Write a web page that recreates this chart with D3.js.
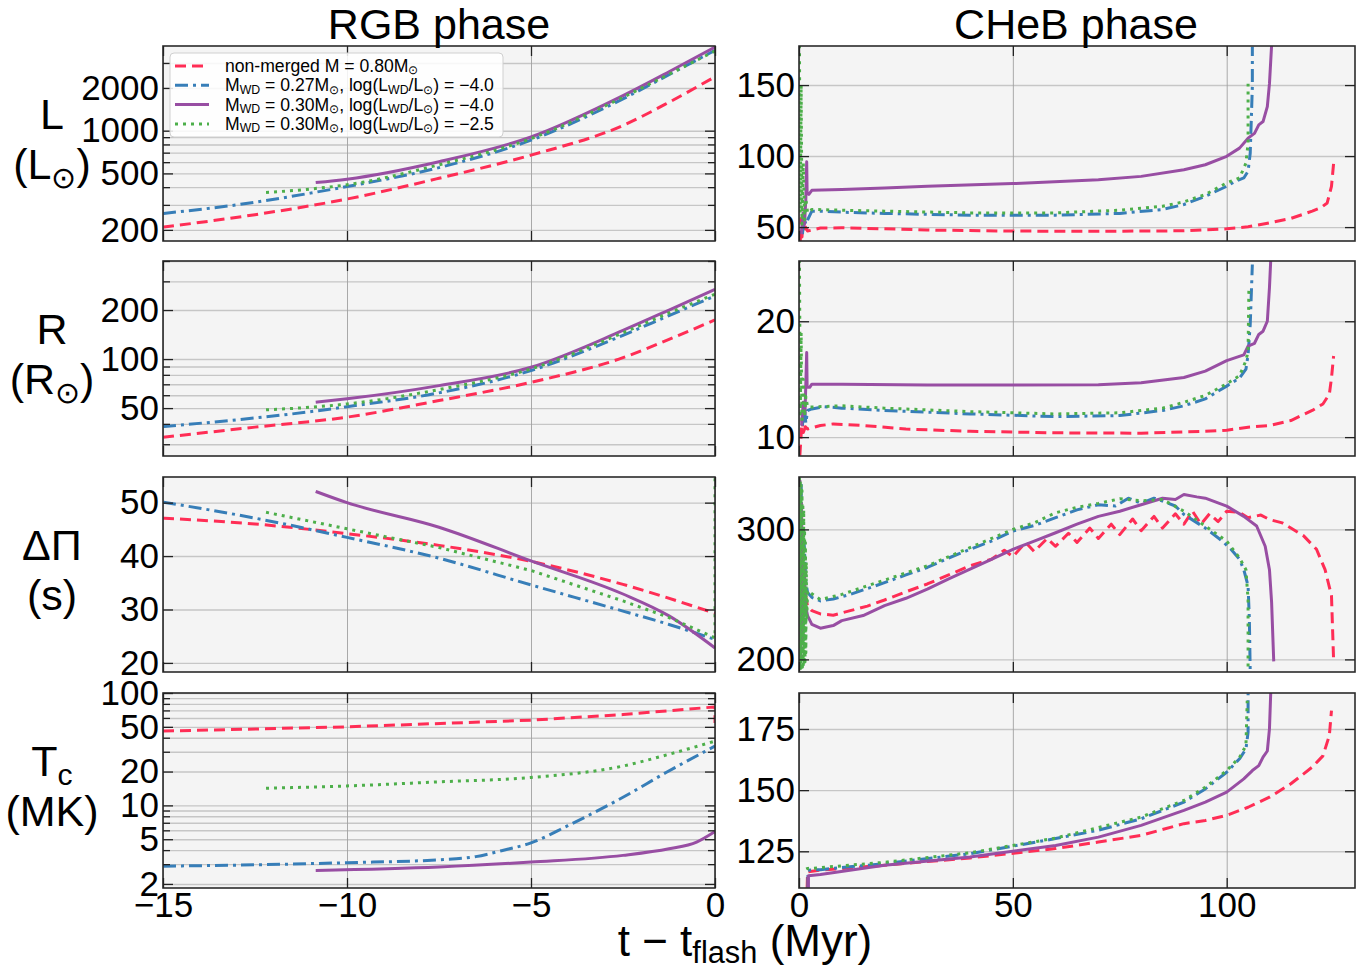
<!DOCTYPE html>
<html>
<head>
<meta charset="utf-8">
<script src="https://cdn.jsdelivr.net/npm/d3@7"></script>
<style>
  body { margin: 0; background: #fff; }
  text { font-family: "Liberation Sans", Arial, Helvetica, sans-serif; fill: #000; }
</style>
</head>
<body>
<svg id="chart" width="1367" height="971"></svg>
<script>
// ---- legend / series names ----
const seriesKeys = ["red", "blue", "purple", "green"];
const seriesLabels = [
  "non-merged M = 0.80M_{⊙}",
  "M_{WD} = 0.27M_{⊙}, log(L_{WD}/L_{⊙}) = −4.0",
  "M_{WD} = 0.30M_{⊙}, log(L_{WD}/L_{⊙}) = −4.0",
  "M_{WD} = 0.30M_{⊙}, log(L_{WD}/L_{⊙}) = −2.5"
];

// ---- RGB phase (t - t_flash in Myr, value) ----
const rgbL_red = [[-15,209],[-12.5,256],[-10,330],[-7.5,462],[-5,673],[-2.5,1088],[-1.25,1585],[0,2400]];
const rgbL_blue = [[-15,261],[-12.5,313],[-11,363],[-10,404],[-7.5,549],[-5,857],[-2.5,1675],[-1.25,2480],[0,3680]];
const rgbL_purple = [[-10.85,431],[-10,455],[-7.5,604],[-5,903],[-2.5,1766],[-1.25,2600],[0,3880]];
const rgbL_green = [[-12.2,367],[-11,388],[-10,416],[-7.5,575],[-5,880],[-2.5,1720],[-1.25,2500],[0,3640]];

const rgbR_red = [[-15,33.1],[-12.5,38.2],[-10,44],[-7.5,55.6],[-5,72],[-2.5,102],[-1.25,132],[0,174]];
const rgbR_blue = [[-15,38.5],[-12.5,43.5],[-11,47.5],[-10,51],[-7.5,62],[-5,85],[-2.5,140],[-1.25,185],[0,244]];
const rgbR_purple = [[-10.85,54.3],[-10,57],[-7.5,68.7],[-5,89],[-2.5,150],[-1.25,200],[0,268]];
const rgbR_green = [[-12.2,48.8],[-11,50.6],[-10,53],[-7.5,65],[-5,87],[-2.5,145],[-1.25,192],[0,250]];

const rgbP_red = [[-15,47.1],[-12.5,46.0],[-10,44.2],[-7.5,42.0],[-5,39.0],[-2.5,34.7],[0,29.3]];
const rgbP_blue = [[-15,50.1],[-12.5,47.1],[-10,43.5],[-7.5,39.6],[-5,34.6],[-2.5,29.7],[-1.25,27.2],[0,24.4]];
const rgbP_purple = [[-10.85,52.1],[-10,50],[-7.5,45.4],[-5,39.1],[-2.5,32.9],[-1.25,28.8],[0,22.8]];
const rgbP_green = [[-12.2,48.2],[-10,45.1],[-7.5,41.6],[-5,37.3],[-2.5,31.6],[-1.25,28.5],[0,24.7],[0,56]];

const rgbT_red = [[-15,45.8],[-10,50],[-5,57.3],[-2.5,64.3],[0,75.2],[0,54]];
const rgbT_blue = [[-15,2.88],[-12.5,2.96],[-10,3.09],[-7.5,3.28],[-6.5,3.5],[-5.8,3.95],[-5,4.64],[-4,6.6],[-2.5,11.8],[-1.33,19.6],[0,33.7]];
const rgbT_purple = [[-10.85,2.64],[-7.5,2.83],[-5,3.13],[-2.5,3.59],[-1.25,4.11],[-0.5,4.71],[0,5.85]];
const rgbT_green = [[-12.2,14.2],[-10,14.9],[-7.5,16.2],[-5,17.7],[-2.5,22.4],[-1.25,28.5],[0,37.3]];

// ---- CHeB phase (t - t_flash in Myr, value) ----
const chebL_red = [[0.3,40],[0.5,56],[0.7,43],[0.9,53],[1.2,46],[1.5,50],[2,47.2],[5,49.3],[10,49.5],[20,48.8],[30,47.9],[50,47.2],[70,47],[90,47.4],[100,48.8],[105,50.2],[110,53],[115,56.1],[120,61.2],[122,63.6],[123.5,67],[124.5,78.7],[125,95]];
const chebL_blue = [[0.8,45],[1.2,56],[1.6,52],[2,55],[3,61.2],[5,61.2],[10,60.5],[20,59.6],[40,58.4],[60,58.4],[75,59.6],[85,62.4],[90,65.9],[95,71.7],[100,78.7],[102,82.2],[104,84.6],[105,89.3],[105.5,102],[106,149],[106,177]];
const chebL_purple = [[0.5,45],[1.0,60],[1.3,52],[1.6,70],[1.8,96],[1.9,74],[2.3,73],[3,75.9],[10,76.4],[20,77.6],[30,78.7],[50,80.6],[70,83.4],[80,85.7],[90,90.4],[95,93.9],[100,99.8],[103,105.6],[105,112.6],[106.5,116],[107.5,122],[108.5,124.3],[109.5,134.8],[110,151],[110.5,178]];
const chebL_green = [[0.1,178],[0.3,60],[0.5,150],[0.7,52],[1.0,95],[1.3,55],[1.6,70],[2,60],[3,62.4],[10,61.9],[20,61.2],[40,60],[60,60],[75,61.9],[85,64.7],[90,67.8],[95,72.9],[100,81.1],[103,84.6],[104.5,95],[105,109],[105,151]];

const chebR_red = [[0.2,8.4],[0.5,10.2],[0.7,11.6],[1,10.4],[1.5,10.9],[2,10.7],[5,11],[8,11.14],[15,11],[25,10.7],[40,10.5],[60,10.37],[80,10.34],[95,10.5],[100,10.6],[105,10.86],[110,11],[115,11.43],[120,12.3],[122.5,12.86],[124,13.7],[124.5,15.1],[125,17]];
const chebR_blue = [[0.8,11],[1.2,12.8],[1.6,11.2],[2,12.3],[3,12.43],[6,12.63],[10,12.5],[20,12.3],[40,12],[60,11.77],[75,11.86],[85,12.3],[90,12.7],[95,13.3],[100,14.4],[103,15.1],[104.5,15.86],[105,17.1],[105.5,19.7],[106,24.9]];
const chebR_purple = [[0.6,11],[1.0,13],[1.4,12],[1.7,16],[1.8,17.3],[1.9,14.3],[2.5,14.3],[3,14.57],[10,14.57],[30,14.49],[50,14.49],[70,14.52],[80,14.7],[90,15.14],[95,15.7],[100,16.6],[104,17.1],[105,17.86],[106.5,18.1],[107.5,18.86],[108.5,19.14],[109.5,20],[110,22.9],[110.3,25.3]];
const chebR_green = [[0.1,25.3],[0.3,12],[0.5,19],[0.7,11.2],[1.0,15],[1.3,11.8],[1.6,13.5],[2,12.6],[3,12.6],[10,12.7],[20,12.5],[40,12.2],[60,12],[75,12.1],[85,12.5],[90,13],[95,13.6],[100,14.6],[103,15.3],[104.5,16.6],[105,17.4],[105.2,23]];

const chebP_red = [[1.5,250],[2,241],[3,237.5],[5,235],[8,234],[12,237.5],[16,241],[20,245.7],[25,252],[30,258],[35,265],[40,272],[45,277],[48,284],[50,279],[53,290],[55,283],[58,293],[60,287],[63,297],[65,290],[68,301],[70,293],[73,304],[75,296],[78,308],[80,299],[83,310],[85,301],[88,312],[90,304],[92,314],[94,304],[96,312],[98,306],[100,314],[103,313],[105,309],[108,311],[110,307.6],[113,305],[115,301],[118,295],[121,284.7],[123,269],[124.5,249],[125,199]];
const chebP_blue = [[0.5,335],[0.8,230],[1.2,290],[1.6,260],[2,251.5],[3,247.7],[5,245],[8,246.4],[12,250],[20,259],[25,265],[30,270.7],[35,278],[40,284.7],[45,291],[50,298.7],[55,303],[60,309],[65,315],[70,319],[74,318],[77,324],[80,320],[83,324],[85,321.7],[88,318],[90,311.5],[95,301],[99,291],[101,284.7],[103,277],[104,269],[105,256.6],[105.3,231],[105.5,191]];
const chebP_purple = [[0.2,338],[0.4,200],[0.6,320],[0.9,215],[1.2,270],[1.6,240],[2,233.7],[3,227],[5,224],[8,226],[10,229.8],[15,233.7],[20,241.3],[25,247],[30,254],[35,262],[40,269.4],[45,277],[50,284.7],[55,291],[60,297.4],[65,304],[70,310],[75,314],[80,319],[85,324],[88,323],[90,326.8],[93,325],[95,324],[100,317.9],[104,310],[107,302.6],[109,287],[110,269],[110.5,244],[111,198.5]];
const chebP_green = [[0.1,340],[0.2,195],[0.3,338],[0.4,193],[0.5,335],[0.6,192],[0.7,330],[0.8,194],[0.9,320],[1.0,195],[1.1,315],[1.2,196],[1.3,300],[1.4,198],[1.5,290],[1.6,205],[1.7,275],[1.8,230],[2,252.8],[5,246],[10,250],[20,261],[30,272],[40,286],[50,300],[55,305],[60,312.8],[65,317],[70,320],[75,323.5],[80,322],[85,323],[90,314],[95,302.6],[100,291],[103,278],[104.5,269],[105,246],[105,192]];

const chebT_red = [[1.9,110],[2,116.6],[5,117.3],[20,119.3],[40,122.3],[60,126.1],[70,128.8],[80,131.5],[90,136.3],[95,137.6],[100,139.7],[105,143],[110,147.1],[115,152.6],[120,159.4],[122.5,164],[124,172.3],[124.5,182.5]];
const chebT_blue = [[2.1,110],[2.1,117.3],[5,117.5],[20,120],[40,124],[60,130.2],[70,133.6],[80,138.3],[90,145.1],[95,150.5],[100,157.3],[103,162.8],[104.5,166.8],[105,173.6],[105,189.5]];
const chebT_purple = [[2.2,110],[2.2,115],[5,115.5],[20,119.3],[40,122.7],[60,127.4],[70,130.8],[80,135.6],[90,141.7],[95,145.1],[100,149.2],[104,154.6],[106,158],[107.5,160],[108.5,163.5],[109.5,166],[110,175],[110.3,190]];
const chebT_green = [[1.9,118.5],[2,117.9],[20,120.5],[40,124.4],[60,130.4],[80,139],[90,145.8],[95,151.2],[100,158],[103,163.4],[104.5,168.2],[104.8,186.5]];

// ---- tick values ----
const rgbXTicks = [-15, -10, -5, 0];
const chebXTicks = [0, 50, 100];
const lTicksLog = [200, 500, 1000, 2000];
const lMinorLog = [300, 400, 600, 700, 800, 900, 3000];
const rTicksLog = [50, 100, 200];
const rMinorLog = [30, 40, 60, 70, 80, 90, 300, 400];
const pTicksRgb = [20, 30, 40, 50];
const tTicksLog = [2, 5, 10, 20, 50, 100];
const tMinorLog = [3, 4, 6, 7, 8, 9, 30, 40, 60, 70, 80, 90];
const lTicksCheb = [50, 100, 150];
const rTicksCheb = [10, 20];
const pTicksCheb = [200, 300];
const tTicksCheb = [125, 150, 175];

const yLabels = [["L", "(L_{⊙})"], ["R", "(R_{⊙})"], ["ΔΠ", "(s)"], ["T_{c}", "(MK)"]];

// ---- styling ----
const colors = { red: "#ff2d55", blue: "#377eb8", purple: "#984ea3", green: "#4daf4a" };
const dashes = { red: "11,6", blue: "13,5,3,5", purple: null, green: "3,5" };

const svg = d3.select("#chart");
const W = 1367, H = 971;
svg.append("rect").attr("width", W).attr("height", H).attr("fill", "#fff");

const colX = [{ x0: 163, x1: 715 }, { x0: 799, x1: 1355 }];
const rowTop = [46, 261, 477, 693];
const panelH = 195;
const tickFont = 35;

function rich(t, s, fs, shift) {
  const sh = shift === undefined ? 0.22 : shift;
  const parts = s.split(/(_\{[^}]*\})/);
  let sub = false;
  parts.forEach(p => {
    if (!p) return;
    if (p.startsWith("_{")) {
      t.append("tspan").attr("dy", fs * sh).attr("font-size", fs * 0.7).text(p.slice(2, -1));
      sub = true;
    } else {
      t.append("tspan").attr("dy", sub ? -fs * sh : 0).text(p);
      sub = false;
    }
  });
}

const rows = [
  { left: { log: true, dom: [167, 3950], major: lTicksLog, minor: lMinorLog, data: [rgbL_red, rgbL_blue, rgbL_purple, rgbL_green] },
    right: { dom: [40.2, 177.5], major: lTicksCheb, minor: [], data: [chebL_red, chebL_blue, chebL_purple, chebL_green] } },
  { left: { log: true, dom: [25.4, 400], major: rTicksLog, minor: rMinorLog, data: [rgbR_red, rgbR_blue, rgbR_purple, rgbR_green] },
    right: { dom: [8.37, 25.2], major: rTicksCheb, minor: [], data: [chebR_red, chebR_blue, chebR_purple, chebR_green] } },
  { left: { dom: [18.3, 54.8], major: pTicksRgb, minor: [], data: [rgbP_red, rgbP_blue, rgbP_purple, rgbP_green] },
    right: { dom: [190.3, 340.3], major: pTicksCheb, minor: [], data: [chebP_red, chebP_blue, chebP_purple, chebP_green] } },
  { left: { log: true, dom: [1.84, 100], major: tTicksLog, minor: tMinorLog, data: [rgbT_red, rgbT_blue, rgbT_purple, rgbT_green] },
    right: { dom: [110, 189.7], major: tTicksCheb, minor: [], data: [chebT_red, chebT_blue, chebT_purple, chebT_green] } }
];

let clipId = 0;
function drawPanel(cfg, col, row) {
  const { x0, x1 } = colX[col];
  const w = x1 - x0, h = panelH;
  const g = svg.append("g").attr("transform", `translate(${x0},${rowTop[row]})`);
  const x = d3.scaleLinear().domain(col === 0 ? [-15, 0] : [0, 130]).range([0, w]);
  const y = (cfg.log ? d3.scaleLog() : d3.scaleLinear()).domain(cfg.dom).range([h, 0]);
  const xTicks = col === 0 ? rgbXTicks : chebXTicks;
  const isBottom = row === 3;

  g.append("rect").attr("width", w).attr("height", h).attr("fill", "#f4f4f4");

  // grid
  const gy = g.append("g").call(d3.axisLeft(y).tickValues(cfg.major.concat(cfg.minor)).tickSize(-w).tickFormat(""));
  gy.select(".domain").remove();
  gy.selectAll("line").attr("stroke", "#c6c6c6").attr("stroke-width", 1.4);
  const gx = g.append("g").attr("transform", `translate(0,${h})`)
    .call(d3.axisBottom(x).tickValues(xTicks).tickSize(-h).tickFormat(""));
  gx.select(".domain").remove();
  gx.selectAll("line").attr("stroke", "#a0a0a0").attr("stroke-width", 0.9);

  // curves
  const id = "clip" + (clipId++);
  g.append("clipPath").attr("id", id).append("rect").attr("width", w).attr("height", h);
  const line = d3.line().x(d => x(d[0])).y(d => y(d[1]))
    .curve(col === 0 ? d3.curveMonotoneX : d3.curveLinear);
  const lineSafe = d3.line().x(d => x(d[0])).y(d => y(d[1])).curve(d3.curveLinear);
  cfg.data.forEach((ser, i) => {
    const k = seriesKeys[i];
    const hasDupX = ser.some((d, j) => j > 0 && d[0] === ser[j - 1][0]);
    g.append("path").datum(ser)
      .attr("clip-path", `url(#${id})`)
      .attr("d", hasDupX ? lineSafe : line)
      .attr("fill", "none")
      .attr("stroke", colors[k])
      .attr("stroke-width", 3)
      .attr("stroke-dasharray", dashes[k])
      .attr("stroke-linejoin", "round");
  });

  // frame
  g.append("rect").attr("width", w).attr("height", h).attr("fill", "none")
    .attr("stroke", "#2b2b2b").attr("stroke-width", 1.6);

  const styleAxis = (sel) => {
    sel.select(".domain").remove();
    sel.selectAll("line").attr("stroke", "#222").attr("stroke-width", 1.3);
    sel.selectAll("text").attr("font-size", tickFont).attr("font-family", '"Liberation Sans", Arial, sans-serif').attr("fill", "#000");
  };
  const fmt = d3.format("d");

  // y ticks
  g.append("g").call(d3.axisLeft(y).tickValues(cfg.major).tickSize(-10).tickPadding(4).tickFormat(fmt)).call(styleAxis);
  g.append("g").attr("transform", `translate(${w},0)`).call(d3.axisRight(y).tickValues(cfg.major).tickSize(-10).tickFormat("")).call(styleAxis);
  if (cfg.minor.length) {
    g.append("g").call(d3.axisLeft(y).tickValues(cfg.minor).tickSize(-7).tickFormat("")).call(styleAxis);
    g.append("g").attr("transform", `translate(${w},0)`).call(d3.axisRight(y).tickValues(cfg.minor).tickSize(-7).tickFormat("")).call(styleAxis);
  }
  // x ticks
  g.append("g").attr("transform", `translate(0,${h})`)
    .call(d3.axisBottom(x).tickValues(xTicks).tickSize(-10).tickPadding(4).tickFormat(isBottom ? fmt : "")).call(styleAxis);
  g.append("g").call(d3.axisTop(x).tickValues(xTicks).tickSize(-10).tickFormat("")).call(styleAxis);
  return g;
}

rows.forEach((r, i) => {
  drawPanel(r.left, 0, i);
  drawPanel(r.right, 1, i);
});

// legend (top-left panel)
const lg = svg.append("g").attr("transform", "translate(170,53)");
lg.append("rect").attr("width", 333).attr("height", 84).attr("rx", 4)
  .attr("fill", "#fff").attr("fill-opacity", 0.85).attr("stroke", "#d0d0d0");
seriesLabels.forEach((lab, i) => {
  const yy = 13 + i * 19.3;
  const k = seriesKeys[i];
  lg.append("line").attr("x1", 5).attr("x2", 39).attr("y1", yy).attr("y2", yy)
    .attr("stroke", colors[k]).attr("stroke-width", 3).attr("stroke-dasharray", dashes[k]);
  const t = lg.append("text").attr("x", 55).attr("y", yy + 6).attr("font-size", 17.6);
  rich(t, lab, 17.6, 0.14);
});

// column titles
svg.append("text").attr("x", 439).attr("y", 39).attr("text-anchor", "middle").attr("font-size", 43).text("RGB phase");
svg.append("text").attr("x", 1076).attr("y", 39).attr("text-anchor", "middle").attr("font-size", 43).text("CHeB phase");

// y labels
yLabels.forEach((lab, i) => {
  const cy = rowTop[i] + panelH / 2;
  const t1 = svg.append("text").attr("x", 52).attr("y", cy - 15).attr("text-anchor", "middle").attr("font-size", 43);
  rich(t1, lab[0], 43);
  const t2 = svg.append("text").attr("x", 52).attr("y", cy + 35).attr("text-anchor", "middle").attr("font-size", 43);
  rich(t2, lab[1], 43);
});

// x label
const xl = svg.append("text").attr("x", 745).attr("y", 956).attr("text-anchor", "middle").attr("font-size", 44);
rich(xl, "t − t_{flash} (Myr)", 44, 0.15);
</script>
</body>
</html>
